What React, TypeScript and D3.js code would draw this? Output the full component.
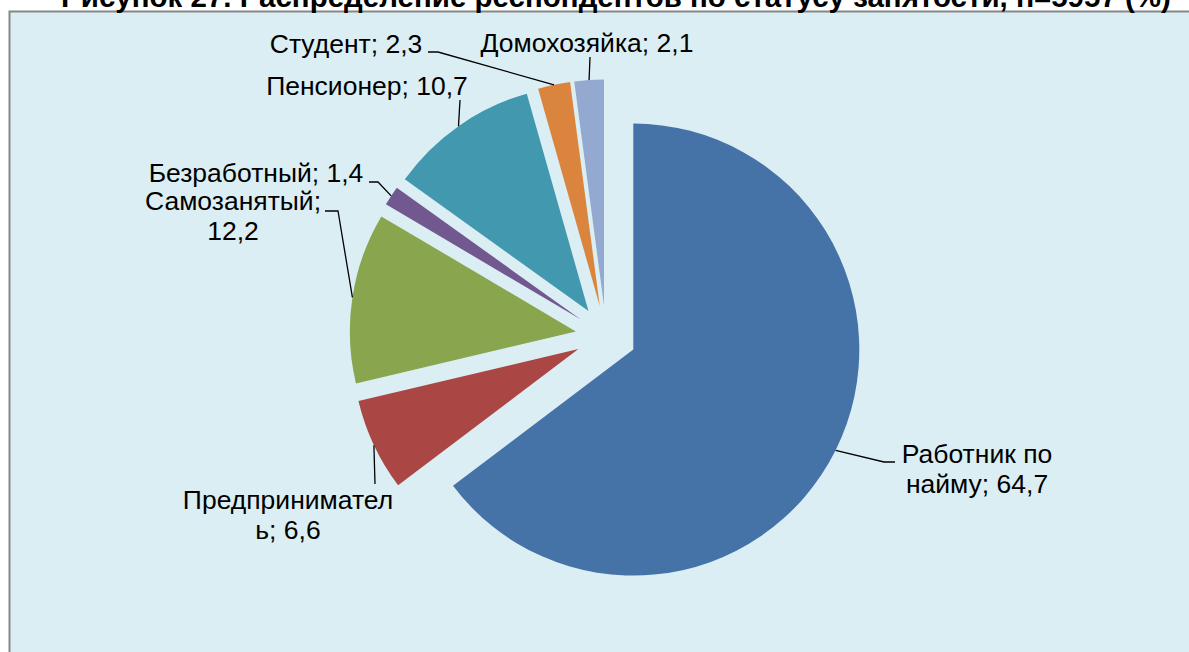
import { useEffect, useRef } from "react"
import * as d3 from "d3"

// data
const categories = [
  "Работник по найму",
  "Предприниматель",
  "Самозанятый",
  "Безработный",
  "Пенсионер",
  "Студент",
  "Домохозяйка",
]
const values = [64.7, 6.6, 12.2, 1.4, 10.7, 2.3, 2.1]
const labelLines = [
  ["Работник по", "найму; 64,7"],
  ["Предпринимател", "ь; 6,6"],
  ["Самозанятый;", "12,2"],
  ["Безработный; 1,4"],
  ["Пенсионер; 10,7"],
  ["Студент; 2,3"],
  ["Домохозяйка; 2,1"],
]
const colors = ["#4572A7", "#AA4643", "#89A54E", "#71588F", "#4198AF", "#DB843D", "#93A9CF"]
const title = "Рисунок 27. Распределение респондентов по статусу занятости, n=5957 (%)"

// label layout (text centre x, first baseline y, leader points from label side)
const labelLayout: { x: number; y: number; leader: [number, number][] }[] = [
  { x: 977, y: 463, leader: [[895, 462], [884, 462]] },
  { x: 288, y: 509, leader: [[375, 484]] },
  { x: 233, y: 210, leader: [[325, 211], [338, 211]] },
  { x: 256, y: 182, leader: [[369, 182], [378, 182]] },
  { x: 367, y: 95, leader: [[460, 100]] },
  { x: 346, y: 53, leader: [[428, 52], [438, 52]] },
  { x: 587, y: 52, leader: [[590, 57]] },
]

const W = 1189
const H = 652

export default function App() {
  const svgRef = useRef<SVGSVGElement>(null)

  useEffect(() => {
    const svg = d3.select(svgRef.current)
    svg.selectAll("*").remove()

    const font = "'Liberation Sans', Arial, sans-serif"

    // plot area
    svg
      .append("rect")
      .attr("x", 9.5)
      .attr("y", 11.5)
      .attr("width", W + 10)
      .attr("height", H + 10)
      .attr("fill", "#DBEEF4")
      .attr("stroke", "#878787")
      .attr("stroke-width", 2)

    // title (cut off at the top, as in the source)
    svg
      .append("text")
      .attr("x", 616)
      .attr("y", 7)
      .attr("text-anchor", "middle")
      .attr("font-family", font)
      .attr("font-weight", "bold")
      .attr("font-size", 29.5)
      .attr("fill", "#000")
      .text(title)

    const cx = 606
    const cy = 336
    const radius = 226
    const explode = 30.5

    const pie = d3
      .pie<number>()
      .sort(null)
      .value((d) => d)
    const arcs = pie(values)

    const arc = d3.arc<d3.PieArcDatum<number>>().innerRadius(0).outerRadius(radius)
    const edge = d3.arc<d3.PieArcDatum<number>>().innerRadius(radius).outerRadius(radius)

    const offset = (d: d3.PieArcDatum<number>) => {
      const a = (d.startAngle + d.endAngle) / 2
      return [explode * Math.sin(a), -explode * Math.cos(a)]
    }

    const g = svg.append("g").attr("transform", `translate(${cx},${cy})`)

    g.selectAll("path.slice")
      .data(arcs)
      .enter()
      .append("path")
      .attr("class", "slice")
      .attr("d", arc)
      .attr("fill", (_, i) => colors[i])
      .attr("transform", (d) => {
        const [ox, oy] = offset(d)
        return `translate(${ox},${oy})`
      })

    // leader lines
    const line = d3.line()
    arcs.forEach((d, i) => {
      const [ox, oy] = offset(d)
      const [ex, ey] = edge.centroid(d)
      const start: [number, number] = [cx + ox + ex, cy + oy + ey]
      const pts = [...labelLayout[i].leader].reverse()
      svg
        .append("path")
        .attr("d", line([start, ...pts]))
        .attr("fill", "none")
        .attr("stroke", "#000")
        .attr("stroke-width", 1.3)
    })

    // labels
    labelLines.forEach((lines, i) => {
      const t = svg
        .append("text")
        .attr("text-anchor", "middle")
        .attr("font-family", font)
        .attr("font-size", 26.5)
        .attr("fill", "#000")
        .attr("aria-label", categories[i])
      lines.forEach((s, j) => {
        t.append("tspan")
          .attr("x", labelLayout[i].x)
          .attr("y", labelLayout[i].y + j * 30)
          .text(s)
      })
    })
  }, [])

  return (
    <svg
      ref={svgRef}
      width={W}
      height={H}
      style={{ position: "absolute", left: 0, top: 0, display: "block" }}
    />
  )
}
